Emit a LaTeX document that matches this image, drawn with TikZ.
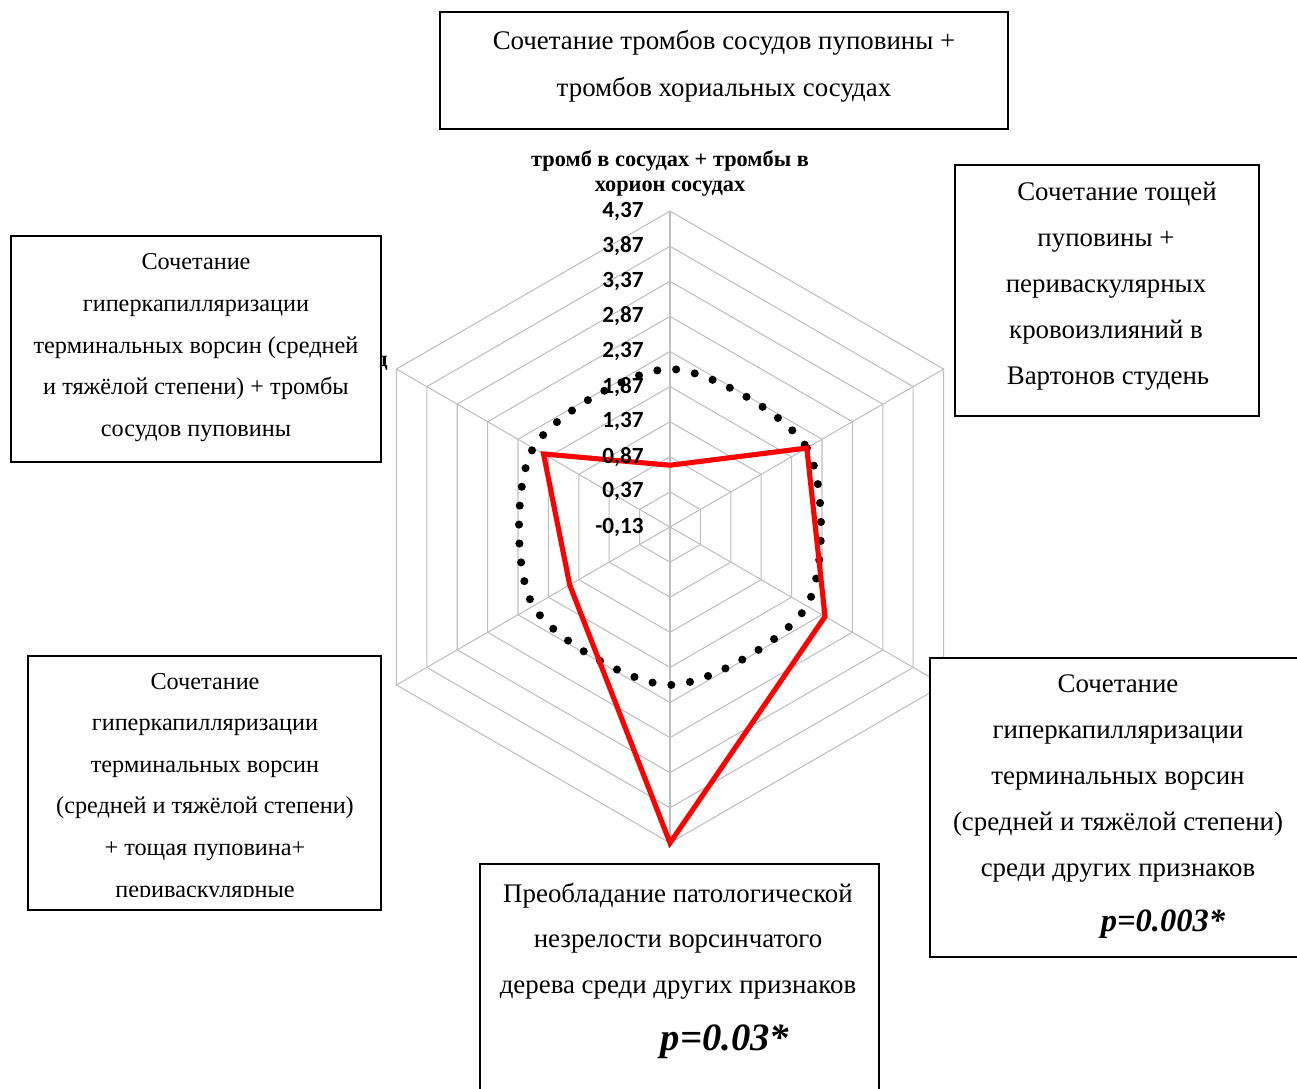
\documentclass[tikz,border=0pt]{standalone}
\usepackage{fontspec}
\setmainfont{Liberation Serif}
\newfontfamily\axisfont{Carlito}
\usepackage{tikz}
\usetikzlibrary{fit}
\newcommand{\unitr}{70.2}
\newcommand{\ringr}{35.1}
\newcommand{\rv}[1]{((#1)+0.13)*\unitr}
\definecolor{gridgray}{RGB}{190,190,190}
\definecolor{serred}{RGB}{255,0,0}
\tikzset{
    gridline/.style = {draw=gridgray, line width=0.6pt},
    dotser/.style = {line width=4.6pt, dash pattern=on 0pt off 10.8pt, line cap=round},
    redser/.style = {draw=serred, line width=2.9pt, line join=miter},
    ticklbl/.style = {inner sep=0pt, anchor=east, font=\axisfont\bfseries\fontsize{13.2}{13}\selectfont},
    axttl/.style = {inner sep=0pt, anchor=base, font=\bfseries\fontsize{12.7}{13}\selectfont},
    box/.style = {draw, line width=1.3pt, fill=white, inner sep=0pt},
    txt/.style = {inner sep=0pt, anchor=base, font=\fontsize{15.3}{17}\selectfont},
    txtsm/.style = {txt, font=\fontsize{13.8}{16}\selectfont},
    pval/.style = {inner sep=0pt, anchor=base, font=\bfseries\itshape\fontsize{#1}{#1}\selectfont}
}
\begin{document}
\begin{tikzpicture}[x=0.02cm, y=-0.02cm]
            %\draw[help lines] (0,0) grid[step=100] (1297,1088);
            \useasboundingbox (0,0) rectangle (1297,1088);
            % radar chart, centre at (670,527)
            \begin{scope}[shift={(670,527)}, yscale=-1]
                \foreach \k in {1,...,9} {
                    \pgfmathsetmacro{\rr}{\k*\ringr}
                    \draw[gridline] (90:\rr) -- (30:\rr) -- (-30:\rr) -- (-90:\rr) -- (-150:\rr) -- (150:\rr) -- cycle;
                }
                \foreach \a in {90,30,...,-210} {
                    \draw[gridline] (0,0) -- (\a:9*\ringr);
                }
                \foreach \a/\v [count=\i] in {90/2.12,30/2.12,-30/2.12,-90/2.12,-150/2.12,150/2.12} {
                    \coordinate (d\i) at (\a:{\rv{\v}});
                }
                \draw[dotser] plot[smooth cycle, tension=0.5] coordinates {(d1) (d2) (d3) (d4) (d5) (d6)};
                \foreach \a/\v [count=\i] in {90/0.75,30/2.12,-30/2.42,-90/4.37,-150/1.52,150/1.95} {
                    \coordinate (r\i) at (\a:{\rv{\v}});
                }
                \draw[redser] (r1) -- (r2) -- (r3) -- (r4) -- (r5) -- (r6) -- cycle;
                \foreach \lab [count=\k from 0] in {{-0,13},{0,37},{0,87},{1,37},{1,87},{2,37},{2,87},{3,37},{3,87},{4,37}} {
                    \node[ticklbl] (t\k) at (-26,\k*\ringr) {\lab};
                }
            \end{scope}
            \node[axttl] (ttl1) at (670,166) {тромб в сосудах + тромбы в};
            \node[axttl] (ttl2) at (670,191) {хорион сосудах};
            \node[axttl, anchor=base east] (hid) at (388,366) {д};
            % boxes
            \node[box, fit={(440,12) (1008,129)}] (bTop) {};
            \foreach \s [count=\i] in {Сочетание тромбов сосудов пуповины +, тромбов хориальных сосудах} {
                \node[txt] (top\i) at (724,{50+46*(\i-1)}) {\s};
            }
            \node[box, fit={(955,165) (1259,416)}] (bRT) {};
            \foreach \x/\s [count=\i] in {1117/Сочетание тощей, 1106/пуповины +, 1106/периваскулярных, 1106/кровоизлияний в, 1108/Вартонов студень} {
                \node[txt] (rt\i) at (\x,{200+46.2*(\i-1)}) {\s};
            }
            \node[box, fit={(11,236) (381,462)}] (bLT) {};
            \foreach \s [count=\i] in {Сочетание, гиперкапилляризации, терминальных ворсин (средней, и тяжёлой степени) + тромбы, сосудов пуповины} {
                \node[txtsm] (lt\i) at (196,{269.5+41.8*(\i-1)}) {\s};
            }
            \node[box, fit={(28,656) (381,910)}] (bLB) {};
            \begin{scope}
                \clip (bLB.north west) rectangle (381,896);
                \foreach \s [count=\i] in {Сочетание, гиперкапилляризации, терминальных ворсин, (средней и тяжёлой степени), + тощая пуповина+, периваскулярные} {
                    \node[txtsm] (lb\i) at (205,{689+41.6*(\i-1)}) {\s};
                }
            \end{scope}
            \node[box, fit={(480,864) (879,1100)}] (bBot) {};
            \foreach \s [count=\i] in {Преобладание патологической, незрелости ворсинчатого, дерева среди других признаков} {
                \node[txt] (bt\i) at (678,{902+45.8*(\i-1)}) {\s};
            }
            \node[pval=22] (pBot) at (725,1050) {p=0.03*};
            \node[box, fit={(930,658) (1310,957)}] (bRB) {};
            \foreach \s [count=\i] in {Сочетание, гиперкапилляризации, терминальных ворсин, (средней и тяжёлой степени), среди других признаков} {
                \node[txt] (rb\i) at (1118,{692+46.2*(\i-1)}) {\s};
            }
            \node[pval=18.5] (pRB) at (1163,931) {p=0.003*};
\end{tikzpicture}
\end{document}
